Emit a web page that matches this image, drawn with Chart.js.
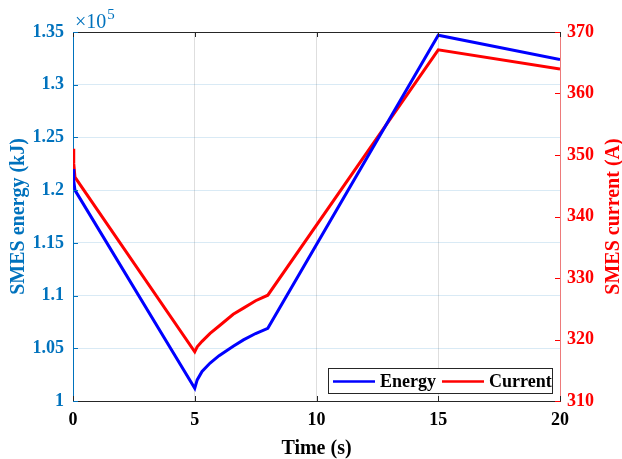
<!DOCTYPE html>
<html>
<head>
    <title>SMES energy and current</title>
    <script src="https://cdn.jsdelivr.net/npm/chart.js"></script>
    <style>
        html, body { margin: 0; padding: 0; background: #fff; }
        #wrap { width: 622px; height: 459px; position: relative; }
    </style>
</head>
<body>
    <div id="wrap"><canvas id="myChart"></canvas></div>

    <script>
        // time axis (s)
        const times = [0, 0.03, 0.08, 5, 5.1, 5.3, 5.63, 6, 6.58, 7, 7.5, 8, 15, 20];
        // SMES energy (x1e5 kJ)
        const energy = [1.22, 1.209, 1.200, 1.012, 1.020, 1.028, 1.036, 1.043, 1.052, 1.058, 1.064, 1.069, 1.347, 1.324];
        // SMES current (A)
        const current = [351, 348.6, 346.4, 318, 318.8, 319.7, 321.0, 322.2, 324.1, 325.1, 326.3, 327.2, 367.1, 364];

        const xTicks = [0, 5, 10, 15, 20];
        const energyRange = [1, 1.35];
        const currentRange = [310, 370];

        const BLUE_AX = '#0072BD';
        const RED_AX = '#FF0000';
        const FONT = 'Liberation Serif';

        const toXY = (vals) => vals.map((v, i) => ({ x: times[i], y: v }));

        // frame, inward ticks, exponent label, right title, legend
        const decor = {
            id: 'decor',
            afterDraw(chart) {
                const ctx = chart.ctx;
                const a = chart.chartArea;
                const sx = chart.scales.x, sy = chart.scales.y, sy1 = chart.scales.y1;
                ctx.save();
                // top border
                ctx.strokeStyle = '#262626';
                ctx.lineWidth = 1;
                ctx.beginPath();
                ctx.moveTo(a.left, a.top + 0.5);
                ctx.lineTo(a.right, a.top + 0.5);
                ctx.stroke();

                // inward ticks
                const tl = 5;
                ctx.strokeStyle = '#262626';
                sx.ticks.forEach(t => {
                    const px = Math.round(sx.getPixelForValue(t.value)) + 0.5;
                    ctx.beginPath();
                    ctx.moveTo(px, a.bottom); ctx.lineTo(px, a.bottom - tl);
                    ctx.moveTo(px, a.top); ctx.lineTo(px, a.top + tl);
                    ctx.stroke();
                });
                ctx.strokeStyle = BLUE_AX;
                sy.ticks.forEach(t => {
                    const py = Math.round(sy.getPixelForValue(t.value)) + 0.5;
                    ctx.beginPath();
                    ctx.moveTo(a.left, py); ctx.lineTo(a.left + tl, py);
                    ctx.stroke();
                });
                ctx.strokeStyle = RED_AX;
                sy1.ticks.forEach(t => {
                    const py = Math.round(sy1.getPixelForValue(t.value)) + 0.5;
                    ctx.beginPath();
                    ctx.moveTo(a.right, py); ctx.lineTo(a.right - tl, py);
                    ctx.stroke();
                });

                // exponent
                ctx.fillStyle = BLUE_AX;
                ctx.textBaseline = 'alphabetic';
                ctx.textAlign = 'left';
                ctx.font = '20px "' + FONT + '"';
                ctx.fillText('\u00d710', a.left + 2, a.top - 4);
                const w = ctx.measureText('\u00d710').width;
                ctx.font = '15px "' + FONT + '"';
                ctx.fillText('5', a.left + 2 + w + 1, a.top - 13);

                // right axis title (reads bottom to top)
                ctx.save();
                ctx.translate(614, (a.top + a.bottom) / 2);
                ctx.rotate(-Math.PI / 2);
                ctx.fillStyle = RED_AX;
                ctx.font = 'bold 20px "' + FONT + '"';
                ctx.textAlign = 'center';
                ctx.textBaseline = 'middle';
                ctx.fillText('SMES current (A)', 0, 0);
                ctx.restore();

                // legend box inside bottom right
                const bx = 328, by = 368, bw = 224, bh = 25;
                ctx.fillStyle = '#fff';
                ctx.fillRect(bx, by, bw, bh);
                ctx.strokeStyle = '#262626';
                ctx.lineWidth = 1;
                ctx.strokeRect(bx + 0.5, by + 0.5, bw, bh);
                ctx.font = 'bold 18px "' + FONT + '"';
                ctx.textAlign = 'left';
                ctx.textBaseline = 'middle';
                let cx = bx + 5;
                const cy = by + bh / 2 + 1;
                chart.data.datasets.forEach(ds => {
                    ctx.strokeStyle = ds.borderColor;
                    ctx.lineWidth = 2.5;
                    ctx.beginPath();
                    ctx.moveTo(cx, cy); ctx.lineTo(cx + 42, cy);
                    ctx.stroke();
                    ctx.fillStyle = '#000';
                    ctx.fillText(ds.label, cx + 47, cy + 1);
                    cx += 47 + ctx.measureText(ds.label).width + 6;
                });
                ctx.restore();
            }
        };

        const ctx = document.getElementById('myChart').getContext('2d');
        const myChart = new Chart(ctx, {
            type: 'line',
            data: {
                datasets: [{
                    label: 'Energy',
                    data: toXY(energy),
                    borderColor: '#0000FF',
                    borderWidth: 3,
                    pointRadius: 0,
                    tension: 0,
                    yAxisID: 'y'
                }, {
                    label: 'Current',
                    data: toXY(current),
                    borderColor: '#FF0000',
                    borderWidth: 3,
                    pointRadius: 0,
                    tension: 0,
                    yAxisID: 'y1'
                }]
            },
            plugins: [decor],
            options: {
                responsive: true,
                maintainAspectRatio: false,
                animation: false,
                layout: { padding: { top: 32, left: 0, right: 0, bottom: 0 } },
                plugins: {
                    legend: { display: false },
                    tooltip: { enabled: false }
                },
                scales: {
                    x: {
                        type: 'linear',
                        min: 0, max: 20,
                        afterBuildTicks: (s) => { s.ticks = xTicks.map(v => ({ value: v })); },
                        afterFit: (s) => { s.height = 58; },
                        ticks: {
                            color: '#000',
                            padding: 9,
                            font: { family: FONT, size: 18, weight: 'bold' }
                        },
                        grid: { color: 'rgba(0,0,0,0.13)', drawTicks: false },
                        border: { color: '#262626' },
                        title: {
                            display: true,
                            text: 'Time (s)',
                            color: '#000',
                            padding: { top: 0, bottom: -2 },
                            font: { family: FONT, size: 20, weight: 'bold' }
                        }
                    },
                    y: {
                        position: 'left',
                        min: energyRange[0], max: energyRange[1],
                        afterFit: (s) => { s.width = 73; },
                        ticks: {
                            stepSize: 0.05,
                            color: BLUE_AX,
                            padding: 9,
                            font: { family: FONT, size: 18, weight: 'bold' },
                            callback: (v) => String(+v.toFixed(2))
                        },
                        grid: { color: 'rgba(0,114,189,0.15)', drawTicks: false },
                        border: { color: BLUE_AX },
                        title: {
                            display: true,
                            text: 'SMES energy (kJ)',
                            color: BLUE_AX,
                            padding: { top: 7, bottom: 0 },
                            font: { family: FONT, size: 20, weight: 'bold' }
                        }
                    },
                    y1: {
                        position: 'right',
                        min: currentRange[0], max: currentRange[1],
                        afterFit: (s) => { s.width = 62; },
                        ticks: {
                            stepSize: 10,
                            color: RED_AX,
                            padding: 7,
                            font: { family: FONT, size: 18, weight: 'bold' }
                        },
                        grid: { drawOnChartArea: false, drawTicks: false },
                        border: { color: 'rgba(255,0,0,0.45)' }
                    }
                }
            }
        });
    </script>
</body>
</html>
